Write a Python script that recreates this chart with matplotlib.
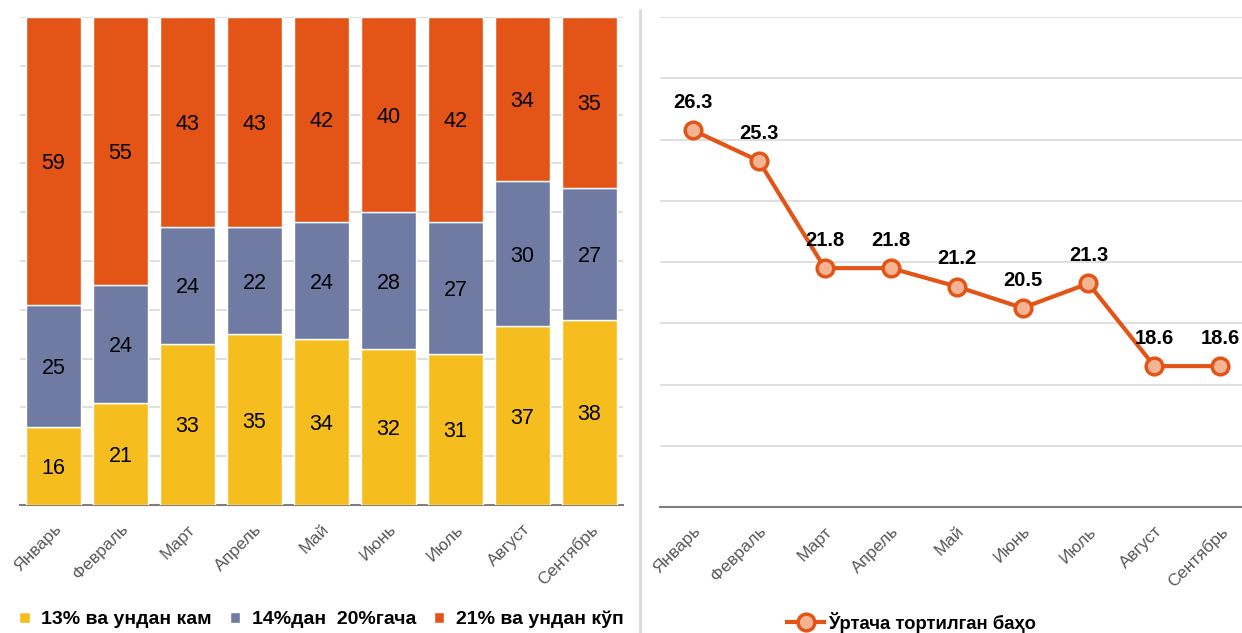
import numpy as np
import matplotlib.pyplot as plt

plt.rcParams['font.family'] = ['Liberation Sans', 'DejaVu Sans']

months = ['Январь', 'Февраль', 'Март', 'Апрель', 'Май', 'Июнь', 'Июль', 'Август', 'Сентябрь']
low = [16, 21, 33, 35, 34, 32, 31, 37, 38]
mid = [25, 24, 24, 22, 24, 28, 27, 30, 27]
high = [59, 55, 43, 43, 42, 40, 42, 34, 35]
avg = [26.3, 25.3, 21.8, 21.8, 21.2, 20.5, 21.3, 18.6, 18.6]

series_names = ['13% ва ундан кам', '14%дан  20%гача', '21% ва ундан кўп']
line_name = 'Ўртача тортилган баҳо'

c_low = '#F5BE1E'
c_mid = '#6F7BA3'
c_high = '#E35416'
grid_c = '#D9D9D9'
tick_c = '#595959'

fig = plt.figure(figsize=(12.42, 6.33), dpi=100)

# left: stacked 100% bars
ax1 = fig.add_axes([20 / 1242, 128 / 633, 603 / 1242, 488 / 633])
x = np.arange(len(months))
tot = np.array(low) + np.array(mid) + np.array(high)
h_low = np.array(low) / tot * 100
h_mid = np.array(mid) / tot * 100
h_high = np.array(high) / tot * 100

ax1.bar(x, h_low, width=0.82, color=c_low, edgecolor='white', linewidth=1, label=series_names[0], zorder=3)
ax1.bar(x, h_mid, bottom=h_low, width=0.82, color=c_mid, edgecolor='white', linewidth=1, label=series_names[1], zorder=3)
ax1.bar(x, h_high, bottom=h_low + h_mid, width=0.82, color=c_high, edgecolor='white', linewidth=1, label=series_names[2], zorder=3)

for i in range(len(months)):
    ax1.text(x[i], h_low[i] / 2, str(low[i]), ha='center', va='center_baseline', fontsize=15.5, zorder=4)
    ax1.text(x[i], h_low[i] + h_mid[i] / 2, str(mid[i]), ha='center', va='center_baseline', fontsize=15.5, zorder=4)
    ax1.text(x[i], h_low[i] + h_mid[i] + h_high[i] / 2, str(high[i]), ha='center', va='center_baseline', fontsize=15.5, zorder=4)

ax1.set_xlim(-0.5, len(months) - 0.5)
ax1.set_ylim(0, 100)
ax1.set_yticks(np.arange(0, 101, 10))
ax1.set_yticklabels([])
ax1.tick_params(axis='y', length=0)
ax1.grid(axis='y', color=grid_c, linewidth=1.2, zorder=0)
ax1.set_xticks(x)
ax1.set_xticklabels(months, rotation=45, ha='right', rotation_mode='anchor', color=tick_c, fontsize=12.5)
ax1.tick_params(axis='x', length=0, pad=12)
for s in ['top', 'left', 'right']:
    ax1.spines[s].set_visible(False)
ax1.spines['bottom'].set_color('#7F7F7F')
ax1.spines['bottom'].set_linewidth(1.5)
ax1.legend(loc='center', bbox_to_anchor=(0.5, -0.235), ncol=3, frameon=False,
           handlelength=0.55, handleheight=0.55, handletextpad=0.6, columnspacing=0.9,
           prop={'weight': 'bold', 'size': 14})

# separator
fig.add_artist(plt.Line2D([640 / 1242, 640 / 1242], [0, 1 - 10 / 633], color=grid_c, linewidth=2))

# right: line chart
ax2 = fig.add_axes([660 / 1242, 126 / 633, 582 / 1242, 490 / 633])
ax2.plot(x, avg, color=c_high, linewidth=3, marker='o', markersize=12,
         markerfacecolor='#F4B393', markeredgecolor=c_high, markeredgewidth=2.5,
         label=line_name, zorder=3)
for i in range(len(months)):
    ax2.annotate('{:.1f}'.format(avg[i]), (x[i], avg[i]), xytext=(0, 13), textcoords='offset points',
                 ha='center', va='bottom', fontsize=14.5, fontweight='bold')
ax2.set_xlim(-0.5, 8.33)
ax2.set_ylim(14, 30)
ax2.set_yticks(np.arange(14, 31, 2))
ax2.set_yticklabels([])
ax2.tick_params(axis='y', length=0)
ax2.grid(axis='y', color=grid_c, linewidth=1.2, zorder=0)
ax2.set_xticks(x)
ax2.set_xticklabels(months, rotation=45, ha='right', rotation_mode='anchor', color=tick_c, fontsize=12.5)
ax2.tick_params(axis='x', length=0, pad=12)
for s in ['top', 'left', 'right']:
    ax2.spines[s].set_visible(False)
ax2.spines['bottom'].set_color('#7F7F7F')
ax2.spines['bottom'].set_linewidth(1.5)
ax2.legend(loc='center', bbox_to_anchor=(0.432, -0.235), frameon=False, handlelength=2.0,
           handletextpad=0.2, prop={'weight': 'bold', 'size': 13.3})

fig.savefig('out.png', dpi=100)
